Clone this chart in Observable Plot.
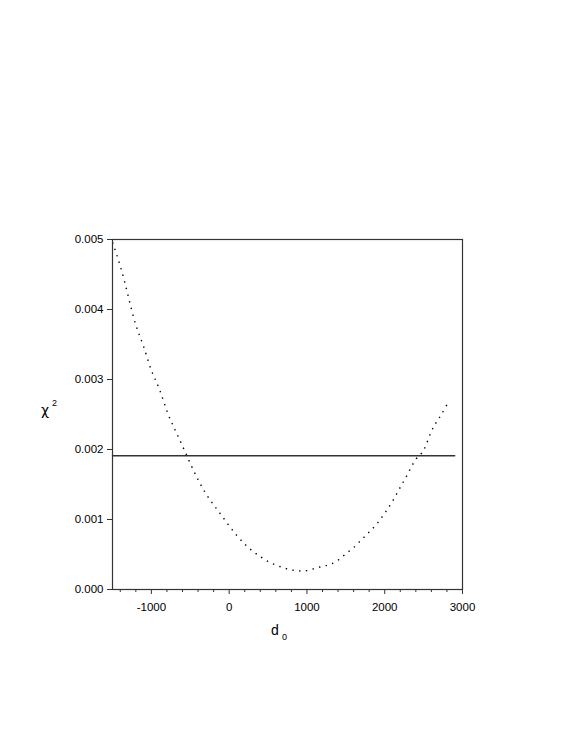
<!DOCTYPE html>
<html>
<head>
<meta charset="utf-8">
<script src="https://cdn.jsdelivr.net/npm/d3@7"></script>
<script src="https://cdn.jsdelivr.net/npm/@observablehq/plot@0.6"></script>
<style>
  html, body { margin: 0; padding: 0; background: #fff; }
</style>
</head>
<body>
<div id="chart"></div>
<script>
const d0 = [-1500,-1400,-1300,-1200,-1100,-1000,-900,-800,-700,-600,-500,-400,-300,-200,-100,0,
  100,200,300,400,500,600,700,800,900,1000,1100,1200,1300,1400,1500,1600,1700,1800,1900,2000,
  2100,2200,2300,2400,2500,2600,2700,2800];
const chi2 = [0.00496,0.00462,0.00420,0.00378,0.00347,0.00313,0.00287,0.00255,0.00229,0.00205,0.00180,0.00157,0.00137,0.00121,0.00106,0.00091,
  0.00077,0.00065,0.00055,0.00047,0.00040,0.00035,0.00031,0.00028,0.000266,0.00027,0.00030,0.00033,0.00036,0.00042,0.00051,0.00060,0.00071,0.00082,0.00094,0.00109,
  0.00126,0.00146,0.00166,0.00186,0.00199,0.00226,0.00245,0.00264];
const thresholdX = [-1500, 2900];
const thresholdY = 0.00191;
const xMajorTicks = [-1000, 0, 1000, 2000, 3000];
const xMinorTicks = [-1400,-1200,-800,-600,-400,-200,200,400,600,800,1200,1400,1600,1800,2200,2400,2600,2800];
const yTicks = [0, 0.001, 0.002, 0.003, 0.004, 0.005];

const curve = d0.map((d, i) => ({d, v: chi2[i]}));
const hline = thresholdX.map(d => ({d, v: thresholdY}));

const ink = "#333";
const font = "'Liberation Sans', Arial, sans-serif";
const plot = Plot.plot({
  width: 575,
  height: 747,
  marginLeft: 112,
  marginRight: 113,
  marginTop: 239,
  marginBottom: 158,
  style: {fontFamily: font, fontSize: "11.5px", color: "#000", background: "#fff"},
  x: {domain: [-1500, 3000]},
  y: {domain: [0, 0.005]},
  marks: [
    Plot.line(curve, {x: "d", y: "v", curve: "natural", stroke: "#000", strokeWidth: 1.4, strokeDasharray: "1.4,5.4", strokeLinecap: "butt"}),
    Plot.line(hline, {x: "d", y: "v", stroke: ink, strokeWidth: 1.4}),
    Plot.frame({stroke: ink, strokeWidth: 1.2}),
    Plot.axisX({ticks: xMinorTicks, tickSize: 3, text: null, label: null, stroke: ink}),
    Plot.axisX({ticks: xMajorTicks, tickSize: 5, tickPadding: 8, tickFormat: d => String(d).replace("−", "-"), label: null, stroke: ink, fill: "#000"}),
    Plot.axisY({ticks: yTicks, tickSize: 5, tickPadding: 4, tickFormat: d => d.toFixed(3), label: null, stroke: ink, fill: "#000"})
  ]
});
document.getElementById("chart").appendChild(plot);

const svg = d3.select(plot);
const yl = svg.append("text")
  .attr("x", 49).attr("y", 415)
  .attr("font-family", "'DejaVu Sans', sans-serif")
  .attr("font-size", 14).attr("fill", "#000");
yl.append("tspan").text("χ");
yl.append("tspan").attr("dx", 3).attr("dy", -9).attr("font-family", font).attr("font-size", 9).text("2");

const xl = svg.append("text")
  .attr("x", 279).attr("y", 635)
  .attr("font-family", font)
  .attr("font-size", 14).attr("fill", "#000");
xl.append("tspan").text("d");
xl.append("tspan").attr("dx", 3).attr("dy", 5).attr("font-size", 9).text("0");
</script>
</body>
</html>
